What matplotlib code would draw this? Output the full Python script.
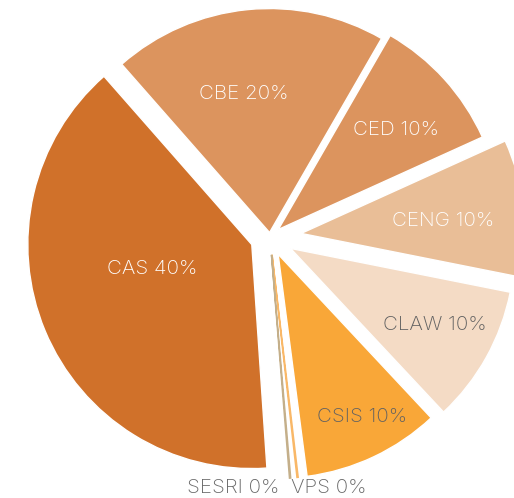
import numpy as np
import matplotlib.pyplot as plt

plt.rcParams['font.family'] = ['Inter', 'DejaVu Sans']

# slices in drawing order, clockwise from the upper left
colleges = ['CBE', 'CED', 'CENG', 'CLAW', 'CSIS', 'VPS', 'SESRI', 'CAS']
shares = [20, 10, 10, 10, 10, 0.5, 0.5, 40]

colors = ['#DC945E', '#DC945E', '#E9BE97', '#F4DBC5', '#F9A738',
          '#F9B868', '#C4AF8A', '#D0712A']
text_colors = ['white', 'white', 'white', '#616161', '#616161',
               '#686868', '#686868', 'white']
explode = [0.02, 0.05, 0.14, 0.105, 0.085, 0.08, 0.08, 0.088]
# label placement relative to each slice: radius and small angle turn
label_radius = [0.63, 0.69, 0.635, 0.73, 0.82, None, None, 0.457]
label_turn = [5, -2, -1.5, 1, 2, 0, 0, -9]

W, H = 514, 498
U = 224.0              # pixels per unit radius
cx, cy = 270.0, 237.0  # pie centre in pixels from the top left

fig = plt.figure(figsize=(W / 100, H / 100), dpi=100)
ax = fig.add_axes([0, 0, 1, 1])

wedges, _ = ax.pie(shares, colors=colors, startangle=131.3,
                   counterclock=False, explode=explode, radius=1.0,
                   wedgeprops=dict(edgecolor='white', linewidth=1))

ax.set_xlim(-cx / U, (W - cx) / U)
ax.set_ylim(-(H - cy) / U, cy / U)
ax.set_aspect('equal')
ax.axis('off')

total = sum(shares)
for w, name, val, tc, lr, turn, c in zip(wedges, colleges, shares,
                                         text_colors, label_radius,
                                         label_turn, colors):
    pct = int(val / total * 100 + 0.5)
    mid = (w.theta1 + w.theta2) / 2
    if lr is None:
        # empty slices: keep them as hairlines
        w.set_theta1(mid - 0.15)
        w.set_theta2(mid + 0.15)
        w.set_edgecolor(c)
        w.set_linewidth(1.1)
        w.set_zorder(5)
        continue
    a = np.deg2rad(mid + turn)
    x0, y0 = w.center
    ax.text(x0 + lr * np.cos(a), y0 + lr * np.sin(a), f'{name} {pct}%',
            ha='center', va='center', color=tc, fontsize=14.8,
            fontweight='light')

# outside labels under the empty slices
for name, ha, xp in [('SESRI', 'right', 279), ('VPS', 'left', 291)]:
    i = colleges.index(name)
    pct = int(shares[i] / total * 100 + 0.5)
    fig.text(xp / W, 1 - 488 / H, f'{name} {pct}%', ha=ha, va='center',
             color=text_colors[i], fontsize=14.8, fontweight='light')

fig.savefig('out.png', dpi=100, facecolor='white')
